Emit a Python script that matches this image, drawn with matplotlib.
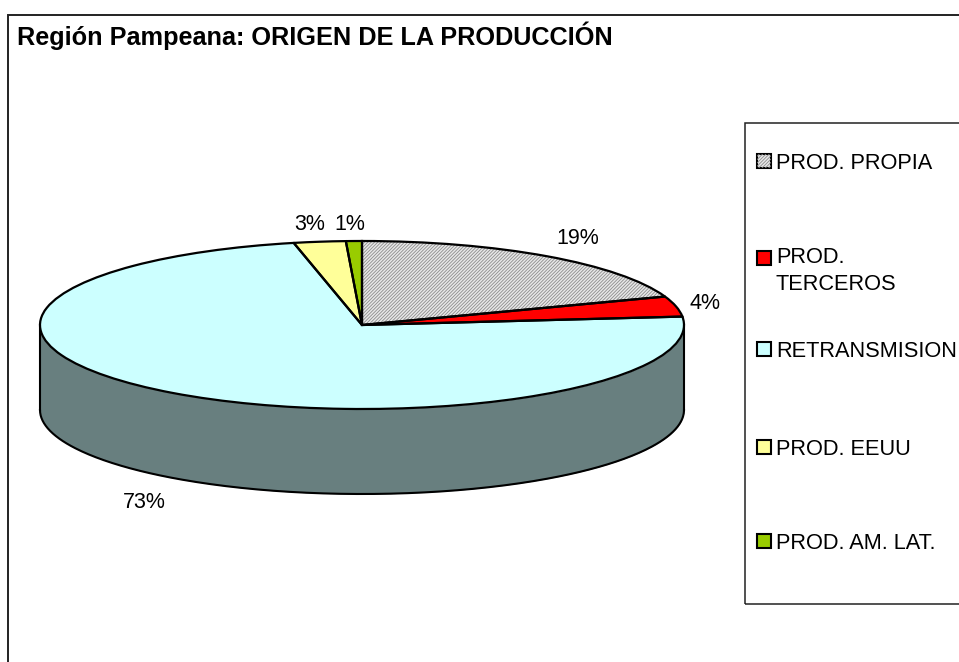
import numpy as np
import matplotlib
matplotlib.use("Agg")
import matplotlib.pyplot as plt
from matplotlib.patches import Rectangle

plt.rcParams['font.family'] = ['Liberation Sans', 'DejaVu Sans']
plt.rcParams['hatch.linewidth'] = 0.6

title = "Región Pampeana: ORIGEN DE LA PRODUCCIÓN"
categories = ["PROD. PROPIA", "PROD.\nTERCEROS", "RETRANSMISION", "PROD. EEUU", "PROD. AM. LAT."]
values = [19.5, 3.9, 73.2, 2.6, 0.8]
pct_labels = ["19%", "4%", "73%", "3%", "1%"]
colors = ["#E8E8E8", "#FF0000", "#CCFFFF", "#FFFF99", "#99CC00"]
wall_color = "#687F7F"

W, H = 959, 662
CX, CY, RX, RY, DEPTH = 362, 325, 322, 84, 85
fig = plt.figure(figsize=(W / 100, H / 100), dpi=100, facecolor="white")

# Axes whose data units are the pie's radius: a squashed circle gives the tilted pie.
ax = fig.add_axes([0, 0, 1, 1])

def fix_axes():
    ax.set_xlim(-CX / RX, (W - CX) / RX)
    ax.set_ylim((CY - H) / RY, CY / RY)
    ax.set_aspect("auto")
    ax.axis("off")

def px(x, y):
    return x / W, 1 - y / H

# frame
fig.add_artist(Rectangle(px(8, 700), 1100 / W, 685 / H, transform=fig.transFigure, fill=False,
                         edgecolor="#222222", linewidth=1.4, zorder=0))
fig.add_artist(Rectangle(px(745, 604), 300 / W, 481 / H, transform=fig.transFigure, fill=False,
                         edgecolor="#222222", linewidth=1.1, zorder=0))

# side wall
t = np.linspace(np.pi, 2 * np.pi, 300)
d = DEPTH / RY
ax.fill_between(np.cos(t), np.sin(t), np.sin(t) - d, color=wall_color, linewidth=0, zorder=1)
ax.plot(np.cos(t), np.sin(t) - d, color="black", lw=1.5, zorder=2)
ax.plot([-1, -1], [0, -d], color="black", lw=1.5, zorder=2)
ax.plot([1, 1], [0, -d], color="black", lw=1.5, zorder=2)

# fills
fills, _ = ax.pie(values, colors=colors, startangle=90, counterclock=False, radius=1,
                  wedgeprops=dict(linewidth=0, zorder=3), frame=True)
fills[0].set_hatch("/" * 10)
fills[0].set_edgecolor("#8C8C8C")
# outlines
outl, _ = ax.pie(values, colors=["none"] * 5, startangle=90, counterclock=False, radius=1,
                 wedgeprops=dict(linewidth=1.6, edgecolor="black", zorder=4), frame=True)
fix_axes()

# percent labels
pct_pos = [(578, 238), (705, 304), (144, 502), (310, 225), (350, 224)]
for s, (x, y) in zip(pct_labels, pct_pos):
    fx, fy = px(x, y)
    fig.text(fx, fy, s, ha="center", va="center", fontsize=15.5, color="black")

# title
fx, fy = px(17, 45)
fig.text(fx, fy, title, ha="left", va="baseline", fontsize=18.2, fontweight="bold", color="black")

# legend
leg_y = [161, 258, 349, 447, 541]
text_base = [169, 290, 357, 455, 549]
for i, (c, lab, y, b) in enumerate(zip(colors, categories, leg_y, text_base)):
    bx, by = px(757, y + 7)
    r = Rectangle((bx, by), 14 / W, 14 / H, transform=fig.transFigure, facecolor=c,
                  edgecolor="black", linewidth=1.5, zorder=5)
    fig.add_artist(r)
    if i == 0:
        fig.add_artist(Rectangle((bx, by), 14 / W, 14 / H, transform=fig.transFigure, fill=False,
                                 edgecolor="#8C8C8C", linewidth=0, hatch="/" * 10, zorder=6))
    fx, fy = px(776, b)
    fig.text(fx, fy, lab, ha="left", va="baseline", fontsize=15.7, color="black", linespacing=1.36)

fig.savefig("out.png", dpi=100)
